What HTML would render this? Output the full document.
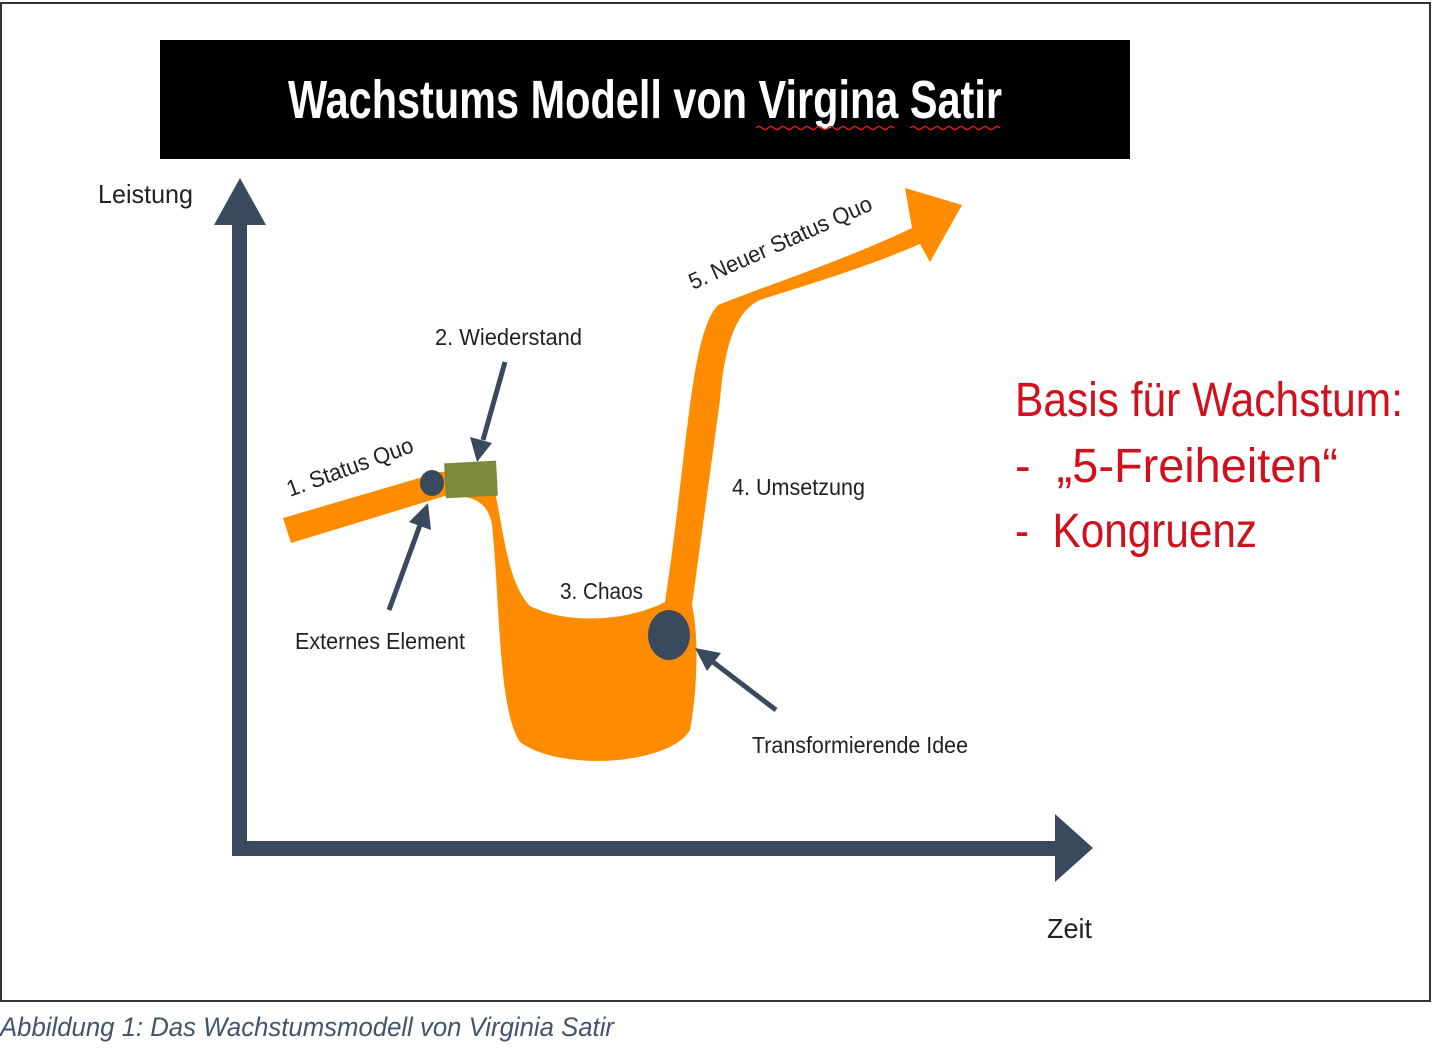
<!DOCTYPE html>
<html><head><meta charset="utf-8"><style>
html,body{margin:0;padding:0;background:#fff;}
svg{display:block;}
text{font-family:"Liberation Sans Narrow","Liberation Sans",sans-serif;}
</style></head><body>
<svg width="1432" height="1052" viewBox="0 0 1432 1052" xmlns="http://www.w3.org/2000/svg">
<rect x="1" y="3" width="1429" height="998" fill="#fff" stroke="#333" stroke-width="2"/>
<rect x="160" y="40" width="970" height="119" fill="#000"/>
<text x="288" y="118" font-size="54" font-weight="bold" fill="#fff" textLength="714" lengthAdjust="spacingAndGlyphs">Wachstums Modell von Virgina Satir</text>
<path d="M756,128 q3,-3 6,0 t6,0 t6,0 t6,0 t6,0 t6,0 t6,0 t6,0 t6,0 t6,0 t6,0 t6,0 t6,0 t6,0 t6,0 t6,0 t6,0 t6,0 t6,0 t6,0 t6,0 t6,0 t6,0 M910,128 q3,-3 6,0 t6,0 t6,0 t6,0 t6,0 t6,0 t6,0 t6,0 t6,0 t6,0 t6,0 t6,0 t6,0 t6,0 t6,0" fill="none" stroke="#d22" stroke-width="1.5"/>
<g fill="#3a4a5e" stroke="none">
<rect x="232" y="215" width="15" height="640"/>
<polygon points="240,178 214,225 266,225"/>
<rect x="232" y="841" width="830" height="15"/>
<polygon points="1093,848 1055,814 1055,882"/>
</g>
<text x="98" y="203" font-size="26" fill="#222" textLength="95" lengthAdjust="spacingAndGlyphs">Leistung</text>
<text x="1047" y="938" font-size="28" fill="#222" textLength="45" lengthAdjust="spacingAndGlyphs">Zeit</text>
<path d="M283,518 L440,472 L490,469 C503,520 505,580 530,606 C570,626 630,620 665,602 C688,450 690,335 718,305 C760,288 850,258 912,228 L905,188 L962,205 L930,262 L920,244 C860,270 790,290 760,300 C738,310 725,340 720,400 L692,605 C700,640 696,700 690,730 C670,765 560,772 520,742 C498,710 500,600 492,525 C488,500 470,495 445,496 L291,543 Z" fill="#ff8c00"/>
<rect x="445" y="462" width="52" height="35" fill="#7d8a3c" transform="rotate(-3 470 480)"/>
<ellipse cx="432" cy="483" rx="12" ry="13" fill="#3a4a5e"/>
<ellipse cx="669" cy="635" rx="21" ry="25" fill="#3a4a5e"/>
<g stroke="#3a4a5e" stroke-width="5" fill="#3a4a5e">
<line x1="505" y1="362" x2="483" y2="440"/>
<polygon points="477,462 470,437 492,443" stroke="none"/>
<line x1="389" y1="610" x2="420" y2="525"/>
<polygon points="428,503 431,530 409,522" stroke="none"/>
<line x1="776" y1="710" x2="713" y2="662"/>
<polygon points="695,648 721,653 707,671" stroke="none"/>
</g>
<g font-size="23" fill="#222" lengthAdjust="spacingAndGlyphs">
<text x="290" y="497" transform="rotate(-20 290 497)" textLength="133" lengthAdjust="spacingAndGlyphs">1. Status Quo</text>
<text x="435" y="345" textLength="147" lengthAdjust="spacingAndGlyphs">2. Wiederstand</text>
<text x="560" y="599" textLength="83" lengthAdjust="spacingAndGlyphs">3. Chaos</text>
<text x="732" y="495" textLength="133" lengthAdjust="spacingAndGlyphs">4. Umsetzung</text>
<text x="693" y="290" transform="rotate(-24 693 290)" textLength="198" lengthAdjust="spacingAndGlyphs">5. Neuer Status Quo</text>
<text x="295" y="649" textLength="170" lengthAdjust="spacingAndGlyphs">Externes Element</text>
<text x="752" y="753" textLength="216" lengthAdjust="spacingAndGlyphs">Transformierende Idee</text>
</g>
<g font-size="48" fill="#d0101c">
<text x="1015" y="416" textLength="388" lengthAdjust="spacingAndGlyphs">Basis für Wachstum:</text>
<text x="1015" y="482" textLength="323" lengthAdjust="spacingAndGlyphs">-&#160;&#160;„5-Freiheiten“</text>
<text x="1015" y="547" textLength="242" lengthAdjust="spacingAndGlyphs">-&#160;&#160;Kongruenz</text>
</g>
<text x="0" y="1036" font-size="27" font-style="italic" fill="#44546a" textLength="614" lengthAdjust="spacingAndGlyphs">Abbildung 1: Das Wachstumsmodell von Virginia Satir</text>
</svg>
</body></html>
